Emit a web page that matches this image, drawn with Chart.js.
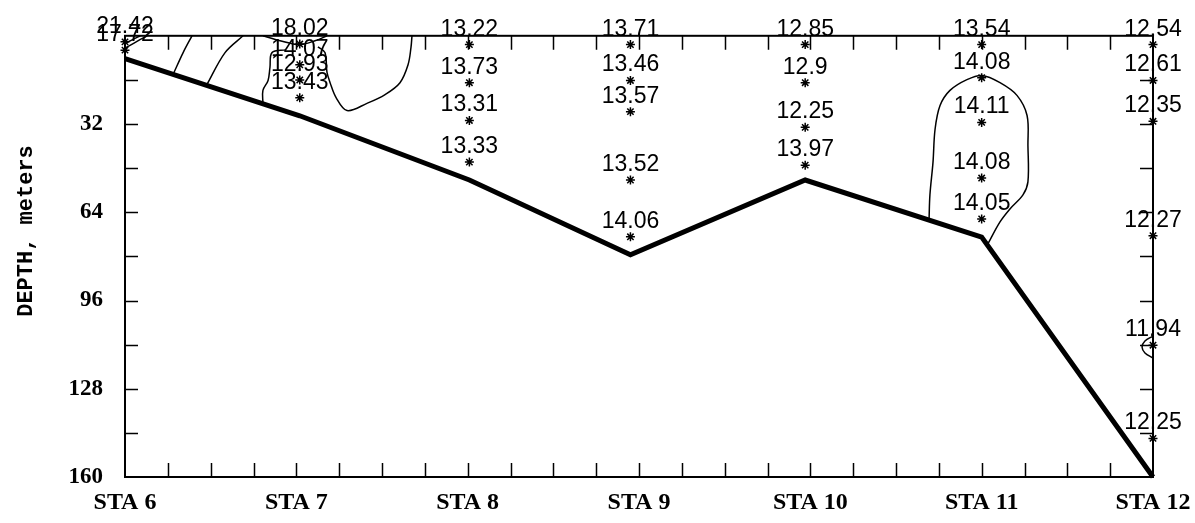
<!DOCTYPE html>
<html>
<head>
<meta charset="utf-8">
<script src="https://cdn.jsdelivr.net/npm/chart.js@4.4.1/dist/chart.umd.min.js"></script>
<style>
html, body { margin: 0; padding: 0; background: #fff; }
#wrap { width: 1195px; height: 523px; }
</style>
</head>
<body>
<div id="wrap"><canvas id="c"></canvas></div>
<script>
// stations along the transect
var stations = ['STA 6', 'STA 7', 'STA 8', 'STA 9', 'STA 10', 'STA 11', 'STA 12'];
var stationX = [0, 1.02, 2.01, 2.95, 3.97, 5.0, 6.0];
var bottomDepth = [8.3, 29, 52.3, 79.4, 52.3, 73, 160];

// sample depths (m) and temperatures per station
var sampleDepth = [
    [2.2, 5.2],
    [3, 10.5, 16, 22.5],
    [3.2, 17, 30.7, 45.8],
    [3.2, 16.2, 27.5, 52.3, 72.9],
    [3.2, 17, 33.2, 46.9],
    [3.2, 15.2, 31.4, 51.6, 66.4],
    [3.2, 16.2, 31, 72.5, 112.2, 146]
];
var sampleTemp = [
    [21.42, 17.72],
    [18.02, 14.07, 12.93, 13.43],
    [13.22, 13.73, 13.31, 13.33],
    [13.71, 13.46, 13.57, 13.52, 14.06],
    [12.85, 12.9, 12.25, 13.97],
    [13.54, 14.08, 14.11, 14.08, 14.05],
    [12.54, 12.61, 12.35, 12.27, 11.94, 12.25]
];

// isotherms, [station position, depth]
var contourA = [[0.391, 0], [0.34, 6], [0.28, 14.1]];
var contourB = [[0.689, 0], [0.584, 6.1], [0.478, 17.7]];
var contourC = [[0, 4.5], [0.07, 2], [0.13, 0]];
var contourD = [[0, 2.8], [0.05, 1.2], [0.09, 0]];
var contourE = [[0.805, 0], [0.905, 1.8], [1.016, 3.2], [1.109, 1.8], [1.179, 0]];
var contourF = [[0.94, 5.1], [0.858, 6.1], [0.846, 11.5], [0.835, 16.2], [0.805, 19.8], [0.805, 24.5]];
var contourG = [[1.126, 4.0], [1.167, 6.1], [1.179, 13.3], [1.197, 17.0], [1.232, 22.4], [1.296, 27.1],
    [1.412, 24.5], [1.518, 21.3], [1.605, 17.0], [1.652, 10.5], [1.669, 4.3], [1.675, 0]];
var contourH = [[4.693, 66.4], [4.698, 57.7], [4.716, 45.8], [4.728, 33.9], [4.757, 25.3], [4.815, 19.8],
    [4.914, 15.9], [5.002, 14.4], [5.107, 17.0], [5.206, 21.6], [5.265, 28.9], [5.27, 39.7],
    [5.27, 53.0], [5.241, 57.7], [5.165, 62.8], [5.107, 67.5], [5.037, 75.4]];
var contourI = [[6, 108.9], [5.953, 110.7], [5.936, 112.9], [5.953, 115], [6, 116.9]];

var contours = [contourA, contourB, contourC, contourD, contourE, contourF, contourG, contourH, contourI];

function toXY(arr) {
    return arr.map(function(p) { return {x: p[0], y: p[1]}; });
}

var samplePoints = [];
var sampleLabels = [];
sampleDepth.forEach(function(list, i) {
    list.forEach(function(d, j) {
        samplePoints.push({x: stationX[i], y: d});
        sampleLabels.push(String(sampleTemp[i][j]));
    });
});

var datasets = [];
contours.forEach(function(c) {
    datasets.push({
        data: toXY(c), showLine: true, borderColor: '#000', borderWidth: 1.5,
        pointRadius: 0, tension: 0.35, clip: false
    });
});
datasets.push({
    data: stationX.map(function(x, i) { return {x: x, y: bottomDepth[i]}; }),
    showLine: true, borderColor: '#000', borderWidth: 5, pointRadius: 0, clip: false
});
datasets.push({
    data: samplePoints, showLine: false, pointStyle: 'star', pointRadius: 4.5,
    borderColor: '#000', backgroundColor: '#000', pointBorderWidth: 1.5, clip: false
});

// temperature labels, axis title, frame and inward ticks
var annotate = {
    id: 'annotate',
    afterDatasetsDraw: function(chart) {
        var ctx = chart.ctx, a = chart.chartArea;
        var xs = chart.scales.x, ys = chart.scales.y;
        ctx.save();
        ctx.strokeStyle = '#000';
        ctx.lineWidth = 2;
        ctx.strokeRect(a.left, a.top, a.right - a.left, a.bottom - a.top);
        ctx.lineWidth = 1.5;
        ctx.beginPath();
        for (var v = 0.25; v < 6; v += 0.25) {
            var px = Math.round(xs.getPixelForValue(v)) + 0.5;
            ctx.moveTo(px, a.bottom); ctx.lineTo(px, a.bottom - 14);
            ctx.moveTo(px, a.top); ctx.lineTo(px, a.top + 14);
        }
        for (var d = 16; d < 160; d += 16) {
            var py = Math.round(ys.getPixelForValue(d)) + 0.5;
            ctx.moveTo(a.left, py); ctx.lineTo(a.left + 13, py);
            ctx.moveTo(a.right, py); ctx.lineTo(a.right - 13, py);
        }
        ctx.stroke();

        ctx.fillStyle = '#000';
        ctx.font = '23px "Liberation Sans", Arial, sans-serif';
        ctx.textAlign = 'center';
        ctx.textBaseline = 'alphabetic';
        samplePoints.forEach(function(p, k) {
            ctx.fillText(sampleLabels[k], xs.getPixelForValue(p.x), ys.getPixelForValue(p.y) - 9);
        });

        ctx.translate(26, 231);
        ctx.rotate(-Math.PI / 2);
        ctx.font = 'bold 22px "Liberation Mono", "DejaVu Sans Mono", monospace';
        ctx.textBaseline = 'middle';
        ctx.fillText('DEPTH, meters', 0, 0);
        ctx.restore();
    }
};

new Chart(document.getElementById('c'), {
    type: 'scatter',
    data: {datasets: datasets},
    options: {
        responsive: true,
        maintainAspectRatio: false,
        animation: false,
        events: [],
        layout: {padding: {top: 33, right: 42, left: 0, bottom: 0}},
        plugins: {legend: {display: false}, tooltip: {enabled: false}},
        scales: {
            x: {
                type: 'linear', min: 0, max: 6,
                grid: {display: false, drawTicks: false},
                border: {display: false},
                afterFit: function(scale) {
                    scale.height = 46;
                    // let the end labels overhang, as in the original
                    scale.paddingLeft = 0;
                    scale.paddingRight = 0;
                },
                ticks: {
                    stepSize: 1, autoSkip: false, maxRotation: 0, padding: 11,
                    color: '#000',
                    font: {family: '"Liberation Serif", "Times New Roman", serif', size: 24, weight: 'bold'},
                    callback: function(v) { return stations[v] || ''; }
                }
            },
            y: {
                type: 'linear', reverse: true, min: 0, max: 160,
                grid: {display: false, drawTicks: false},
                border: {display: false},
                afterFit: function(scale) { scale.width = 125; },
                ticks: {
                    stepSize: 32, padding: 22, color: '#000',
                    font: {family: '"Liberation Serif", "Times New Roman", serif', size: 23, weight: 'bold'},
                    callback: function(v) { return v === 0 ? '' : String(v); }
                }
            }
        }
    },
    plugins: [annotate]
});
</script>
</body>
</html>
